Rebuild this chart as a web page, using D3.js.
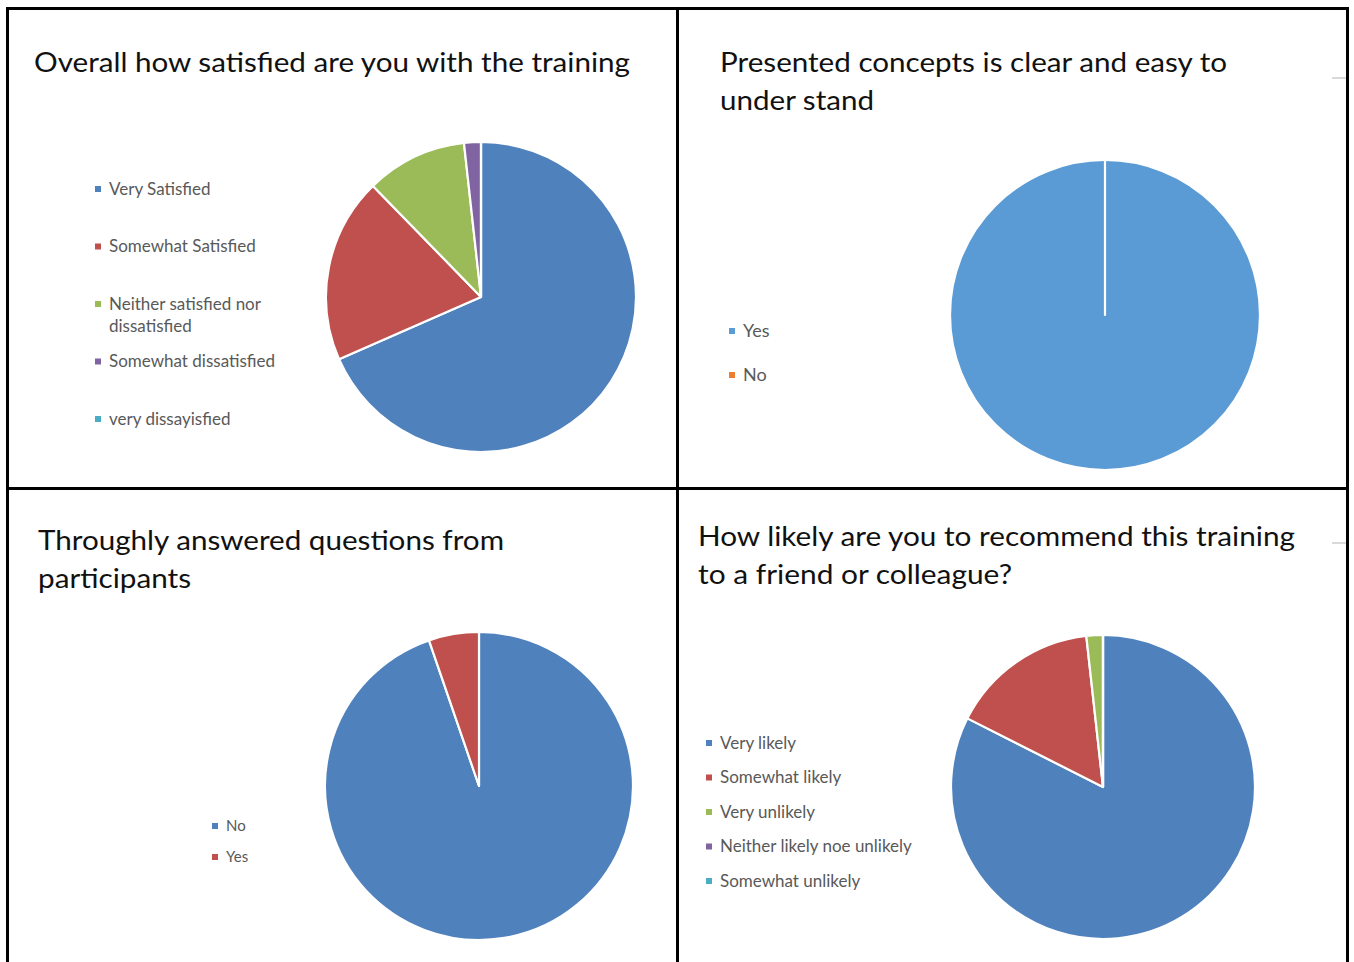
<!DOCTYPE html>
<head>
  <meta charset="utf-8">
  <title>Training feedback</title>
  <script src="https://d3js.org/d3.v7.min.js"></script>
  <style>
    body { margin:0; background:#fff; }
    svg { display:block; }
  </style>
</head>
<body>
  <svg width="1354" height="962"></svg>
  <script>
    // survey answers (counts out of 57)
    var satisfiedLabels = ['Very Satisfied', 'Somewhat Satisfied', 'Neither satisfied nor|dissatisfied', 'Somewhat dissatisfied', 'very dissayisfied'];
    var satisfiedValues = [39, 11, 6, 1, 0];

    var clearLabels = ['Yes', 'No'];
    var clearValues = [57, 0];

    var answeredLabels = ['No', 'Yes'];
    var answeredValues = [54, 3];

    var recommendLabels = ['Very likely', 'Somewhat likely', 'Very unlikely', 'Neither likely noe unlikely', 'Somewhat unlikely'];
    var recommendValues = [47, 9, 1, 0, 0];

    var office2010 = ['#4f81bd', '#c0504d', '#9bbb59', '#8064a2', '#4bacc6'];
    var office2013 = ['#5b9bd5', '#ed7d31'];

    var panels = [
      { title: ['Overall how satisfied are you with the training'], tx: 34, ty: 72, tw: [596],
        labels: satisfiedLabels, values: satisfiedValues, colors: office2010,
        cx: 481, cy: 297, r: 155, lx: 98, ly: 189, step: 57.5, fs: 17 },
      { title: ['Presented concepts is clear and easy to', 'under stand'], tx: 720, ty: 72, tw: [507, 154],
        labels: clearLabels, values: clearValues, colors: office2013,
        cx: 1105, cy: 315, r: 155, lx: 732, ly: 331, step: 44, fs: 18 },
      { title: ['Throughly answered questions from', 'participants'], tx: 38, ty: 550, tw: [466, 153],
        labels: answeredLabels, values: answeredValues, colors: office2010,
        cx: 479, cy: 786, r: 154, lx: 215, ly: 826, step: 31, fs: 15 },
      { title: ['How likely are you to recommend this training', 'to a friend or colleague?'], tx: 698, ty: 546, tw: [597, 314],
        labels: recommendLabels, values: recommendValues, colors: office2010,
        cx: 1103, cy: 787, r: 152, lx: 709, ly: 743, step: 34.5, fs: 17 }
    ];

    var svg = d3.select('svg');
    var pie = d3.pie().sort(null).value(d => d);

    panels.forEach(p => {
      var g = svg.append('g');

      // title lines
      p.title.forEach((t, i) => {
        g.append('text')
          .attr('x', p.tx)
          .attr('y', p.ty + i * 38)
          .attr('textLength', p.tw[i])
          .attr('lengthAdjust', 'spacingAndGlyphs')
          .style('font-family', 'Lato, "Open Sans", sans-serif')
          .style('font-size', '26px')
          .attr('fill', '#111')
          .text(t);
      });

      // pie
      var arc = d3.arc().innerRadius(0).outerRadius(p.r);
      g.append('g')
        .attr('transform', 'translate(' + [p.cx, p.cy] + ')')
        .selectAll('path')
        .data(pie(p.values))
        .enter().append('path')
        .attr('d', arc)
        .attr('fill', (d, i) => p.colors[i])
        .attr('stroke', '#fff')
        .attr('stroke-width', 2.2)
        .attr('stroke-linejoin', 'round');

      // legend
      var items = g.selectAll('.item')
        .data(p.labels)
        .enter().append('g')
        .attr('transform', (d, i) => 'translate(' + [p.lx, p.ly + i * p.step] + ')');
      items.append('rect')
        .attr('x', -3).attr('y', -3)
        .attr('width', 6).attr('height', 6)
        .attr('fill', (d, i) => p.colors[i]);
      items.each(function(d) {
        var lines = d.split('|');
        lines.forEach((l, j) => {
          d3.select(this).append('text')
            .attr('x', 11)
            .attr('y', j * 22)
            .attr('dy', '0.35em')
            .style('font-family', 'Lato, "Open Sans", sans-serif')
            .style('font-size', p.fs + 'px')
            .attr('fill', '#595959')
            .text(l);
        });
      });
    });

    // leftover chart-frame ticks at the right edge
    [78, 543].forEach(y => {
      svg.append('line')
        .attr('x1', 1332).attr('x2', 1346)
        .attr('y1', y).attr('y2', y)
        .attr('stroke', '#ccc').attr('stroke-width', 1.5);
    });

    // panel grid
    var frame = svg.append('g').attr('stroke', '#000').attr('stroke-width', 3);
    frame.append('line').attr('x1', 6).attr('x2', 1349).attr('y1', 8.5).attr('y2', 8.5);
    frame.append('line').attr('x1', 6).attr('x2', 1349).attr('y1', 488.5).attr('y2', 488.5);
    frame.append('line').attr('x1', 7.5).attr('x2', 7.5).attr('y1', 7).attr('y2', 962);
    frame.append('line').attr('x1', 677.5).attr('x2', 677.5).attr('y1', 7).attr('y2', 962);
    frame.append('line').attr('x1', 1347.5).attr('x2', 1347.5).attr('y1', 7).attr('y2', 962);
  </script>
</body>
